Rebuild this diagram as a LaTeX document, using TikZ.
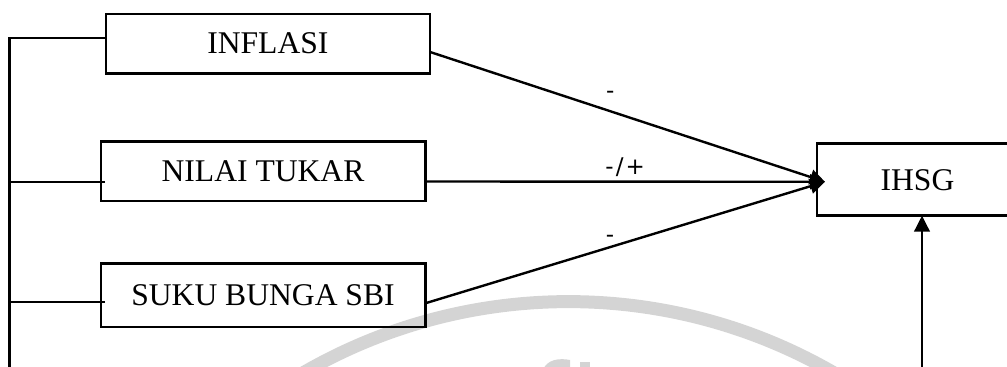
\documentclass[tikz,border=0pt]{standalone}
\usepackage{fontspec}
\setmainfont{Liberation Serif}
\newfontfamily\signfont{DejaVu Sans}
\usetikzlibrary{arrows.meta,calc}
\definecolor{wmgray}{RGB}{212,212,212}
\begin{document}
\begin{tikzpicture}[x=0.5pt,y=-0.5pt,line width=1.2pt,
  box/.style={draw,inner sep=0pt,outer sep=0pt,line width=1.2pt,
    font=\fontsize{15.8}{18}\selectfont},
  sign/.style={font=\signfont\fontsize{11.5}{13}\selectfont,inner sep=0pt},
  link/.style={-{Triangle[length=7.5pt,width=7.5pt]}},
  wm/.style={draw=wmgray,line width=6.5pt}]
\useasboundingbox (0,0) rectangle (1007,367);
\clip (0,0) rectangle (1007,367);

% faint background emblem
\coordinate (wmc) at (568.5,831.6);
\draw[wm] (wmc) ++(-125:530) arc[start angle=-125,end angle=-55,radius=530];
\fill[wmgray] (543,370) .. controls (547,359) and (560,358) .. (570,360) -- (570,370) -- cycle;
\fill[wmgray] (580,362) rectangle (590,370);

% variables
\node[box,minimum width=162.2pt,minimum height=29.7pt] (inflasi) at (267.9,43.7) {INFLASI};
\node[box,minimum width=162.3pt,minimum height=29.8pt] (nilai) at (263,171.5) {NILAI TUKAR};
\node[box,minimum width=162.3pt,minimum height=31.8pt] (suku) at (263,295.5) {SUKU BUNGA SBI};
\node[box,minimum width=100.8pt,minimum height=36pt] (ihsg) at (917.5,179.7) {IHSG};

% connection points
\coordinate (tip) at (825,181.8);
\coordinate (busbot) at (9.5,380);
\coordinate (inflasiOut) at ([yshift=-4.15pt]inflasi.east);
\coordinate (nilaiOut) at ([yshift=-5pt]nilai.east);
\coordinate (sukuOut) at ([yshift=-3.9pt]suku.east);
\coordinate (inflasiIn) at ([yshift=2.7pt]inflasi.west);
\coordinate (nilaiIn) at ([xshift=2.2pt,yshift=-5.25pt]nilai.west);
\coordinate (sukuIn) at ([xshift=2.2pt,yshift=-3.4pt]suku.west);
\coordinate (ihsgIn) at ([xshift=2.25pt]ihsg.south);

% left bracket joining the three variables
\draw (busbot) -- (busbot |- inflasiIn) -- (inflasiIn);
\draw (nilaiIn) -- (nilaiIn -| busbot);
\draw (sukuIn) -- (sukuIn -| busbot);

% effects on IHSG
\draw[link] (inflasiOut) -- node[sign,pos=0.456,yshift=8pt] (s1) {-} (tip);
\draw[link] (nilaiOut) -- node[sign,pos=0.5,yshift=7.2pt] (s2) {-\kern1pt/\kern1pt+} (tip);
\draw[link] (sukuOut) -- node[sign,pos=0.462,yshift=4.3pt] (s3) {-} (tip);
\draw[-{Triangle[length=8pt,width=7.8pt]}] (ihsgIn |- busbot) -- (ihsgIn);
\end{tikzpicture}
\end{document}
